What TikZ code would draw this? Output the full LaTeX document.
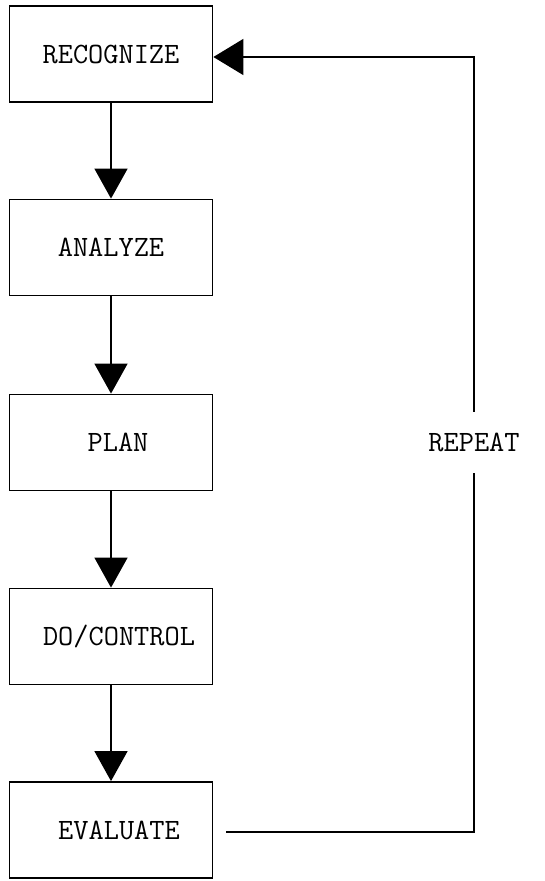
\documentclass[tikz,border=0pt]{standalone}
\usetikzlibrary{arrows.meta}
\begin{document}
\begin{tikzpicture}[x=1pt,y=-1pt,
  lbl/.style={font=\fontsize{29.5}{31}\selectfont\ttfamily},
  stepbox/.style={lbl,draw,line width=1.8pt,minimum width=203pt,minimum height=96pt,inner sep=0pt},
  flow/.style={line width=1.5pt,-{Triangle[width=33pt,length=30pt]}},
  back/.style={line width=1.5pt}]
\useasboundingbox (0,0) rectangle (545,881);
\node[stepbox] (rec) at (111,54) {RECOGNIZE};
\node[stepbox] (ana) at (111,247.5) {ANALYZE};
\node[stepbox] (pla) at (111,442.5) {\hspace*{14pt}PLAN};
\node[stepbox] (doc) at (111,636.5) {\hspace*{16pt}DO/CONTROL};
\node[stepbox] (eva) at (111,830) {\hspace*{16pt}EVALUATE};
\node[lbl,inner xsep=0pt,inner ysep=0pt,minimum height=61pt] (rep) at (474,442.5) {REPEAT};
\draw[flow] (rec.south) -- (ana.north);
\draw[flow] (ana.south) -- (pla.north);
\draw[flow] (pla.south) -- (doc.north);
\draw[flow] (doc.south) -- (eva.north);
\coordinate (s) at (226,832);
\coordinate (c1) at (474,832);
\coordinate (c2) at (474,57);
\draw[back] (s) -- (c1) -- (rep.south);
\draw[back,-{Triangle[width=36pt,length=30pt]}] (rep.north) -- (c2) -- (rec.east |- c2);
\end{tikzpicture}
\end{document}
